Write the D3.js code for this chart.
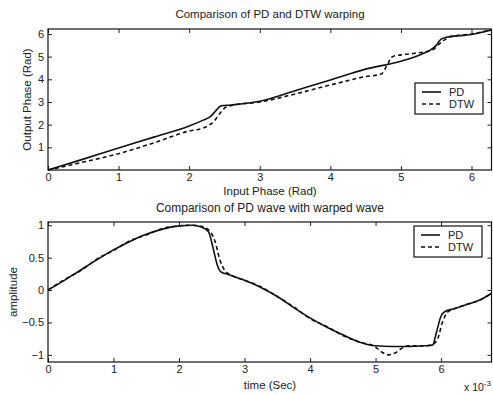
<!DOCTYPE html>
<html>
<head>
<meta charset="utf-8">
<script src="https://cdn.jsdelivr.net/npm/d3@7"></script>
<style>
  body { margin: 0; background: #fff; }
  svg text { font-family: "Liberation Sans", Arial, sans-serif; fill: #222; }
</style>
</head>
<body>
<svg width="493" height="394"></svg>
<script>
// top plot: warping curves (input phase -> output phase)
const phaseXPD = [0, 0.5, 1.0, 1.5, 2.0, 2.2, 2.3, 2.38, 2.45, 2.6, 3.0, 3.5, 4.0, 4.5, 5.0, 5.3, 5.42, 5.5, 5.57, 5.65, 6.0, 6.283];
const phaseYPD = [0, 0.48, 0.97, 1.45, 1.94, 2.2, 2.35, 2.62, 2.83, 2.87, 3.03, 3.5, 3.97, 4.45, 4.8, 5.12, 5.3, 5.5, 5.77, 5.86, 5.98, 6.18];
const phaseXDTW = [0, 0.5, 1.0, 1.5, 2.0, 2.2, 2.35, 2.45, 2.52, 2.6, 3.0, 3.5, 4.0, 4.5, 4.72, 4.8, 4.88, 5.0, 5.2, 5.45, 5.52, 5.6, 5.7, 6.0, 6.283];
const phaseYDTW = [0, 0.35, 0.72, 1.2, 1.72, 1.85, 2.15, 2.55, 2.78, 2.85, 3.0, 3.35, 3.75, 4.12, 4.23, 4.6, 5.0, 5.08, 5.15, 5.3, 5.5, 5.7, 5.88, 6.0, 6.18];

// bottom plot: waves (time in ms)
const timePD = [0, 0.25, 0.5, 0.75, 1.0, 1.25, 1.5, 1.75, 2.0, 2.2, 2.35, 2.45, 2.52, 2.58, 2.64, 2.75, 3.0, 3.25, 3.5, 3.75, 4.0, 4.25, 4.5, 4.75, 5.0, 5.25, 5.5, 5.75, 5.87, 5.93, 6.0, 6.06, 6.2, 6.4, 6.6, 6.77];
const ampPD = [0, 0.15, 0.31, 0.47, 0.62, 0.75, 0.86, 0.94, 0.99, 1.0, 0.97, 0.9, 0.65, 0.4, 0.28, 0.24, 0.15, 0.04, -0.1, -0.27, -0.43, -0.57, -0.69, -0.8, -0.86, -0.87, -0.87, -0.86, -0.85, -0.65, -0.4, -0.33, -0.29, -0.22, -0.15, -0.05];
const timeDTW = [0, 0.25, 0.5, 0.75, 1.0, 1.25, 1.5, 1.75, 2.0, 2.2, 2.35, 2.45, 2.55, 2.62, 2.7, 2.8, 3.0, 3.25, 3.5, 3.75, 4.0, 4.25, 4.5, 4.75, 5.0, 5.1, 5.2, 5.3, 5.4, 5.5, 5.75, 5.87, 5.95, 6.02, 6.1, 6.2, 6.4, 6.6, 6.77];
const ampDTW = [0, 0.16, 0.3, 0.48, 0.61, 0.76, 0.85, 0.95, 0.99, 1.0, 0.98, 0.93, 0.75, 0.48, 0.3, 0.23, 0.15, 0.05, -0.1, -0.26, -0.44, -0.56, -0.7, -0.8, -0.88, -0.96, -1.0, -0.97, -0.9, -0.86, -0.86, -0.84, -0.75, -0.5, -0.34, -0.29, -0.22, -0.15, -0.05];

const topXTicks = [0, 1, 2, 3, 4, 5, 6];
const topYTicks = [1, 2, 3, 4, 5, 6];
const botXTicks = [0, 1, 2, 3, 4, 5, 6];
const botYTicks = [-1, -0.5, 0, 0.5, 1];
const seriesNames = ["PD", "DTW"];

const svg = d3.select("svg");

function panel(o) {
  const x = d3.scaleLinear().domain(o.xDomain).range([48, 491.5]);
  const y = d3.scaleLinear().domain(o.yDomain).range([o.bottom, o.top]);
  const g = svg.append("g");
  const tl = 4;

  // ticks on all four sides, pointing in
  g.append("g").attr("transform", `translate(0,${o.bottom})`)
    .call(d3.axisBottom(x).tickValues(o.xTicks).tickSize(-tl).tickPadding(3).tickFormat(d3.format("")))
    .call(a => a.select(".domain").remove());
  g.append("g").attr("transform", `translate(0,${o.top})`)
    .call(d3.axisTop(x).tickValues(o.xTicks).tickSize(-tl).tickFormat(""))
    .call(a => a.select(".domain").remove());
  g.append("g").attr("transform", "translate(48,0)")
    .call(d3.axisLeft(y).tickValues(o.yTicks).tickSize(-tl).tickPadding(4).tickFormat(d3.format("")))
    .call(a => a.select(".domain").remove());
  g.append("g").attr("transform", "translate(491.5,0)")
    .call(d3.axisRight(y).tickValues(o.yTicks).tickSize(-tl).tickFormat(""))
    .call(a => a.select(".domain").remove());
  g.selectAll(".tick line").attr("stroke", "#222");
  g.selectAll(".tick text").attr("font-size", 11).attr("font-family", "Liberation Sans, Arial, sans-serif").attr("fill", "#222");

  g.append("rect")
    .attr("x", x.range()[0]).attr("y", o.top)
    .attr("width", x.range()[1] - x.range()[0]).attr("height", o.bottom - o.top)
    .attr("fill", "none").attr("stroke", "#111").attr("stroke-width", 1.2);

  const line = d3.line().curve(d3.curveMonotoneX).x(d => x(d[0])).y(d => y(d[1]));
  g.append("path").datum(d3.zip(o.xs[0], o.ys[0]))
    .attr("d", line).attr("fill", "none").attr("stroke", "#111").attr("stroke-width", 1.6);
  g.append("path").datum(d3.zip(o.xs[1], o.ys[1]))
    .attr("d", line).attr("fill", "none").attr("stroke", "#111").attr("stroke-width", 1.6)
    .attr("stroke-dasharray", "4,3");

  // legend
  const lg = g.append("g").attr("transform", `translate(${o.legend[0]},${o.legend[1]})`);
  lg.append("rect").attr("width", 68).attr("height", 31)
    .attr("fill", "#fff").attr("stroke", "#111").attr("stroke-width", 1.2);
  seriesNames.forEach((name, i) => {
    const yy = 9 + i * 12;
    lg.append("line").attr("x1", 7).attr("x2", 26).attr("y1", yy).attr("y2", yy)
      .attr("stroke", "#111").attr("stroke-width", 1.6)
      .attr("stroke-dasharray", i ? "4,3" : null);
    lg.append("text").attr("x", 34).attr("y", yy + 4).attr("font-size", 11).text(name);
  });

  svg.append("text").attr("x", 270).attr("y", o.titleY).attr("text-anchor", "middle")
    .attr("font-size", o.titleSize).text(o.title);
  svg.append("text").attr("x", 270).attr("y", o.xLabelY).attr("text-anchor", "middle")
    .attr("font-size", 11.5).text(o.xLabel);
  svg.append("text").attr("transform", `translate(${o.yLabelX},${(o.top + o.bottom) / 2}) rotate(-90)`)
    .attr("text-anchor", "middle").attr("font-size", 11.5).text(o.yLabel);
}

panel({
  xDomain: [0, 2 * Math.PI], yDomain: [0, 6.22], top: 29, bottom: 170,
  xTicks: topXTicks, yTicks: topYTicks,
  xs: [phaseXPD, phaseXDTW], ys: [phaseYPD, phaseYDTW],
  legend: [415, 83],
  title: "Comparison of PD and DTW warping", titleY: 18, titleSize: 11.5,
  xLabel: "Input Phase (Rad)", xLabelY: 195,
  yLabel: "Output Phase (Rad)", yLabelX: 31
});

panel({
  xDomain: [0, 6.77], yDomain: [-1.11, 1.05], top: 222, bottom: 362,
  xTicks: botXTicks, yTicks: botYTicks,
  xs: [timePD, timeDTW], ys: [ampPD, ampDTW],
  legend: [414, 226],
  title: "Comparison of PD wave with warped wave", titleY: 212, titleSize: 12,
  xLabel: "time (Sec)", xLabelY: 389,
  yLabel: "amplitude", yLabelX: 17
});

// exponent note under the bottom x axis
const ex = svg.append("text").attr("x", 464).attr("y", 391).attr("font-size", 10.5);
ex.append("tspan").text("x 10");
ex.append("tspan").attr("dy", -5).attr("font-size", 8).text("-3");
</script>
</body>
</html>
